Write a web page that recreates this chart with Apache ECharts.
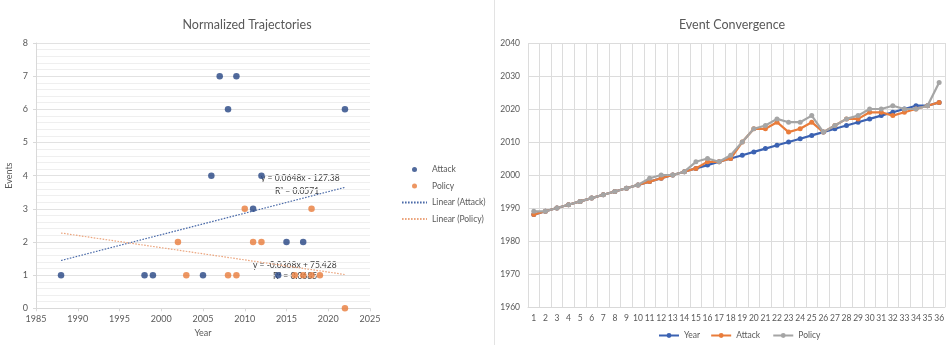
<!DOCTYPE html>
<html>
<head>
<meta charset="utf-8">
<script src="https://cdn.jsdelivr.net/npm/echarts@6/dist/echarts.min.js"></script>
<style>
  html, body { margin: 0; padding: 0; background: #ffffff; }
  #chart { width: 947px; height: 345px; }
</style>
</head>
<body>
<div id="chart"></div>
<script>
// ---- Left panel: yearly event counts per category ----
const attackYears  = [1988, 1998, 1999, 2005, 2006, 2007, 2008, 2009, 2011, 2012, 2014, 2015, 2017, 2022];
const attackEvents = [1, 1, 1, 1, 4, 7, 6, 7, 3, 4, 1, 2, 2, 6];
const policyYears  = [2002, 2003, 2008, 2009, 2010, 2011, 2012, 2016, 2017, 2018, 2018, 2019, 2022];
const policyEvents = [2, 1, 1, 1, 3, 2, 2, 1, 1, 3, 1, 1, 0];

// Linear trend fits (slope, intercept, R²) and the year span they cover
const attackFit = { slope: 0.0648, intercept: -127.38, r2: 0.0571 };
const policyFit = { slope: -0.0368, intercept: 75.428, r2: 0.0685 };
const trendSpan = [1988, 2022];

// ---- Right panel: per-row values ----
const rowLabels = ['1','2','3','4','5','6','7','8','9','10','11','12','13','14','15','16','17','18',
                   '19','20','21','22','23','24','25','26','27','28','29','30','31','32','33','34','35','36'];
const yearSeries = [1988, 1989, 1990, 1991, 1992, 1993, 1994, 1995, 1996, 1997, 1998, 1999, 2000, 2001, 2002, 2003, 2004, 2005,
                    2006, 2007, 2008, 2009, 2010, 2011, 2012, 2013, 2014, 2015, 2016, 2017, 2018, 2019, 2020, 2021, 2021, 2022];
const attackSeries = [1988, 1989, 1990, 1991, 1992, 1993, 1994, 1995, 1996, 1997, 1998, 1999, 2000, 2001, 2002, 2004, 2004, 2005,
                      2010, 2014, 2014, 2016, 2013, 2014, 2016, 2013, 2015, 2017, 2017, 2019, 2019, 2018, 2019, 2020, 2021, 2022];
const policySeries = [1989, 1989, 1990, 1991, 1992, 1993, 1994, 1995, 1996, 1997, 1999, 2000, 2000, 2001, 2004, 2005, 2004, 2006,
                      2010, 2014, 2015, 2017, 2016, 2016, 2018, 2013, 2015, 2017, 2018, 2020, 2020, 2021, 2020, 2020, 2021, 2028];

const FONT = 'Lato, "Open Sans", sans-serif';
const TEXT = '#595959';
const C_BLUE_DOT = '#264583';
const C_ORANGE = '#E97C3B';
const C_YEAR = '#3B62B2';
const C_GRAY = '#A5A5A5';

const zip = (xs, ys) => xs.map((x, i) => [x, ys[i]]);
const fitLine = f => trendSpan.map(x => [x, f.slope * x + f.intercept]);
const plain = v => String(v);

const chart = echarts.init(document.getElementById('chart'), null, { renderer: 'canvas' });

chart.setOption({
  backgroundColor: '#ffffff',
  animation: false,
  textStyle: { fontFamily: FONT },
  title: [
    { text: 'Normalized Trajectories', left: 242, top: 13, textAlign: 'center',
      textStyle: { fontSize: 12.5, fontWeight: 'normal', color: TEXT, fontFamily: FONT } },
    { text: 'Event Convergence', left: 727, top: 13, textAlign: 'center',
      textStyle: { fontSize: 12.5, fontWeight: 'normal', color: TEXT, fontFamily: FONT } }
  ],
  legend: [
    {
      orient: 'vertical', left: 396, top: 160, itemGap: 7.5,
      itemWidth: 25, itemHeight: 5,
      textStyle: { fontSize: 8.5, color: TEXT, fontFamily: FONT },
      data: [
        { name: 'Attack', icon: 'circle' },
        { name: 'Policy', icon: 'circle' },
        { name: 'Linear (Attack)', itemStyle: { opacity: 0 } },
        { name: 'Linear (Policy)', itemStyle: { opacity: 0 } }
      ]
    },
    {
      left: 653, bottom: 0, itemGap: 10,
      itemWidth: 20, itemHeight: 6,
      textStyle: { fontSize: 8.5, color: TEXT, fontFamily: FONT },
      data: ['Year', { name: 'Attack ' }, { name: 'Policy ' }]
    }
  ],
  grid: [
    { left: 36, top: 43, width: 334, height: 265.3 },
    { left: 528, top: 43, right: -2.6, bottom: 38 }
  ],
  xAxis: [
    {
      gridIndex: 0, type: 'value', min: 1985, max: 2025, interval: 5,
      name: 'Year', nameLocation: 'middle', nameGap: 20,
      nameTextStyle: { fontSize: 9, color: TEXT, fontFamily: FONT },
      axisLine: { show: true, lineStyle: { color: '#D9D9D9' } },
      axisTick: { show: true, length: 3, lineStyle: { color: '#D9D9D9' } },
      axisLabel: { fontSize: 9, color: TEXT, fontFamily: FONT, margin: 6, formatter: plain },
      splitLine: { show: false }
    },
    {
      gridIndex: 1, type: 'category', data: rowLabels, boundaryGap: true,
      axisLine: { show: true, lineStyle: { color: '#D9D9D9' } },
      axisTick: { show: false },
      axisLabel: { interval: 0, fontSize: 8.5, color: TEXT, fontFamily: FONT, margin: 7 },
      splitLine: { show: true, interval: 0, lineStyle: { color: '#DCDCDC', width: 1 } }
    }
  ],
  yAxis: [
    {
      gridIndex: 0, type: 'value', min: 0, max: 8, interval: 1,
      name: 'Events', nameLocation: 'middle', nameGap: 22, nameRotate: 90,
      nameTextStyle: { fontSize: 9, color: TEXT, fontFamily: FONT },
      axisLine: { show: true, lineStyle: { color: '#D9D9D9' } },
      axisTick: { show: true, length: 3, lineStyle: { color: '#D9D9D9' } },
      axisLabel: { fontSize: 9, color: TEXT, fontFamily: FONT, margin: 8, formatter: plain },
      splitLine: { show: true, lineStyle: { color: '#E2E2E2' } },
      minorTick: { show: false, splitNumber: 5 },
      minorSplitLine: { show: true, lineStyle: { color: '#EFEFEF' } }
    },
    {
      gridIndex: 1, type: 'value', min: 1960, max: 2040, interval: 10,
      axisLine: { show: false },
      axisTick: { show: false },
      axisLabel: { fontSize: 8.5, color: TEXT, fontFamily: FONT, margin: 8, formatter: plain },
      splitLine: { show: true, lineStyle: { color: '#DCDCDC' } }
    }
  ],
  series: [
    {
      name: 'Attack', type: 'scatter', xAxisIndex: 0, yAxisIndex: 0,
      data: zip(attackYears, attackEvents), symbolSize: 6.5,
      itemStyle: { color: C_BLUE_DOT }, z: 3
    },
    {
      name: 'Policy', type: 'scatter', xAxisIndex: 0, yAxisIndex: 0,
      data: zip(policyYears, policyEvents), symbolSize: 6.5,
      itemStyle: { color: C_ORANGE }, z: 3
    },
    {
      name: 'Linear (Attack)', type: 'line', xAxisIndex: 0, yAxisIndex: 0,
      data: fitLine(attackFit), showSymbol: false, symbol: 'none',
      lineStyle: { color: '#4A6AA8', width: 1.2, type: [1.6, 1.4] },
      itemStyle: { color: '#4A6AA8' }, z: 2
    },
    {
      name: 'Linear (Policy)', type: 'line', xAxisIndex: 0, yAxisIndex: 0,
      data: fitLine(policyFit), showSymbol: false, symbol: 'none',
      lineStyle: { color: '#EBA57E', width: 1.2, type: [1.6, 1.4] },
      itemStyle: { color: '#EBA57E' }, z: 2
    },
    {
      name: 'Year', type: 'line', xAxisIndex: 1, yAxisIndex: 1,
      data: yearSeries, symbol: 'circle', symbolSize: 5,
      lineStyle: { color: C_YEAR, width: 2.2 }, itemStyle: { color: C_YEAR }, z: 2
    },
    {
      name: 'Attack ', type: 'line', xAxisIndex: 1, yAxisIndex: 1,
      data: attackSeries, symbol: 'circle', symbolSize: 5,
      lineStyle: { color: C_ORANGE, width: 2.2 }, itemStyle: { color: C_ORANGE }, z: 3
    },
    {
      name: 'Policy ', type: 'line', xAxisIndex: 1, yAxisIndex: 1,
      data: policySeries, symbol: 'circle', symbolSize: 5,
      lineStyle: { color: C_GRAY, width: 2.2 }, itemStyle: { color: C_GRAY }, z: 4
    }
  ],
  graphic: [
    // divider between the two panels
    { type: 'line', shape: { x1: 494.5, y1: 0, x2: 494.5, y2: 345 }, style: { stroke: '#E3E3E3', lineWidth: 1 } },
    // trend equations
    { type: 'text', left: 261, top: 174, style: { text: 'y = ' + attackFit.slope + 'x - ' + Math.abs(attackFit.intercept), fontSize: 8.5, fill: '#404040', fontFamily: FONT } },
    { type: 'text', left: 275, top: 187, style: { text: 'R² = ' + attackFit.r2, fontSize: 8.5, fill: '#404040', fontFamily: FONT } },
    { type: 'text', left: 253, top: 261, style: { text: 'y = ' + policyFit.slope + 'x + ' + policyFit.intercept, fontSize: 8.5, fill: '#404040', fontFamily: FONT } },
    { type: 'text', left: 273, top: 272, style: { text: 'R² = ' + policyFit.r2, fontSize: 8.5, fill: '#404040', fontFamily: FONT } }
  ]
});
</script>
</body>
</html>
